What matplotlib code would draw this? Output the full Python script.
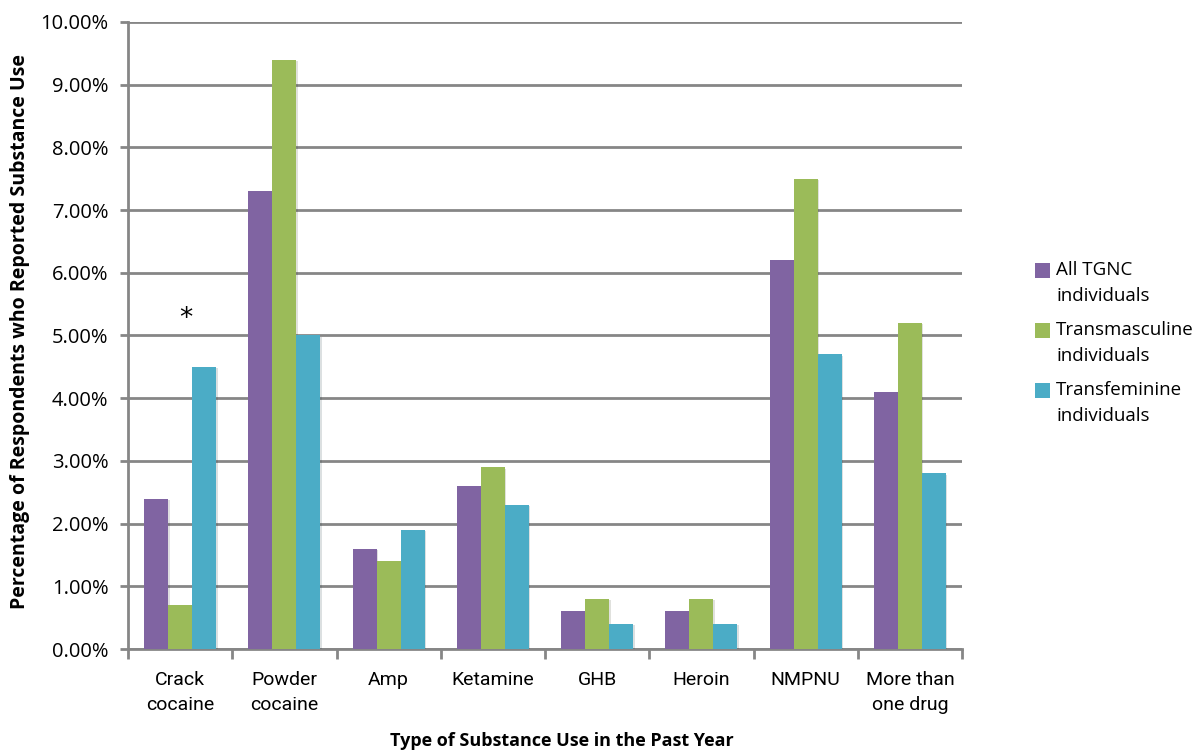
import numpy as np
import matplotlib
matplotlib.use('Agg')
import matplotlib.pyplot as plt
from matplotlib import patheffects
from matplotlib.patches import Rectangle
from matplotlib.ticker import FuncFormatter

# ----- DADOS
substancias = ["Crack\ncocaine", "Powder\ncocaine", "Amp", "Ketamine", "GHB",
               "Heroin", "NMPNU", "More than\none drug"]
todos_tgnc = [2.4, 7.3, 1.6, 2.6, 0.6, 0.6, 6.2, 4.1]
transmasculinos = [0.7, 9.4, 1.4, 2.9, 0.8, 0.8, 7.5, 5.2]
transfemininos = [4.5, 5.0, 1.9, 2.3, 0.4, 0.4, 4.7, 2.8]
series_labels = ["All TGNC\nindividuals", "Transmasculine\nindividuals",
                 "Transfeminine\nindividuals"]
cores = ["#8064A2", "#9BBB59", "#4BACC6"]

grid_cor = "#868686"

fig = plt.figure(figsize=(12, 7.51), dpi=100)
ax = fig.add_axes([0.1067, 0.1358, 0.695, 0.835])

x = np.arange(len(substancias))
largura = 0.23
sombra = [patheffects.SimplePatchShadow(offset=(1, -1), alpha=0.15),
          patheffects.Normal()]

for i, (vals, lab, cor) in enumerate(zip([todos_tgnc, transmasculinos, transfemininos],
                                         series_labels, cores)):
    barras = ax.bar(x + (i - 1) * largura, vals, largura, color=cor,
                    label=lab, zorder=3)
    for b in barras:
        b.set_path_effects(sombra)

# ----- ASTERISCO (significância)
ax.text(0.05, 5.05, "*", ha='center', va='bottom', fontsize=19,
        family='DejaVu Sans', zorder=4)

# ----- EIXOS
ax.set_xlim(-0.5, len(substancias) - 0.5)
ax.set_ylim(0, 10)
ax.set_yticks(np.arange(0, 11, 1))
ax.yaxis.set_major_formatter(FuncFormatter(lambda v, p: f"{v:.2f}%"))
ax.yaxis.grid(True, color=grid_cor, linewidth=2, zorder=0)
ax.set_axisbelow(True)

ax.set_xticks(np.arange(-0.5, len(substancias)), minor=False)
ax.set_xticklabels([])
ax.set_xticks(x, minor=True)
ax.set_xticklabels(substancias, minor=True, family='Roboto',
                   fontsize=14, linespacing=1.5)
ax.tick_params(axis='x', which='minor', length=0, pad=16)
ax.tick_params(axis='x', which='major', length=7, width=2, color=grid_cor)
ax.tick_params(axis='y', length=6, width=2, color=grid_cor, labelsize=14.5, pad=8)
for lbl in ax.get_yticklabels():
    lbl.set_family('Open Sans')

for s in ['top', 'right']:
    ax.spines[s].set_visible(False)
for s in ['left', 'bottom']:
    ax.spines[s].set_color(grid_cor)
    ax.spines[s].set_linewidth(2)

ax.set_ylabel("Percentage of Respondents who Reported Substance Use",
              family='Open Sans', fontweight='bold', fontsize=14)
ax.yaxis.set_label_coords(-0.118, 0.507)
fig.text(562 / 1200, 1 - 741 / 751, "Type of Substance Use in the Past Year",
         ha='center', va='center', family='Open Sans', fontweight='bold',
         fontsize=13)

# ----- LEGENDA (quadrado alinhado com a primeira linha do rótulo)
leg_x = 1035 / 1200
leg_y0 = 1 - 270 / 751
passo = 60 / 751
lado_w, lado_h = 15 / 1200, 15 / 751
for i, (lab, cor) in enumerate(zip(series_labels, cores)):
    yc = leg_y0 - i * passo
    fig.patches.append(Rectangle((leg_x, yc - lado_h / 2), lado_w, lado_h,
                                 transform=fig.transFigure, facecolor=cor,
                                 edgecolor='none'))
    fig.text(leg_x + 21 / 1200, yc + 9 / 751, lab, ha='left', va='top',
             family='Open Sans', fontsize=13.5, linespacing=1.6)

plt.savefig("out.png", dpi=100)
